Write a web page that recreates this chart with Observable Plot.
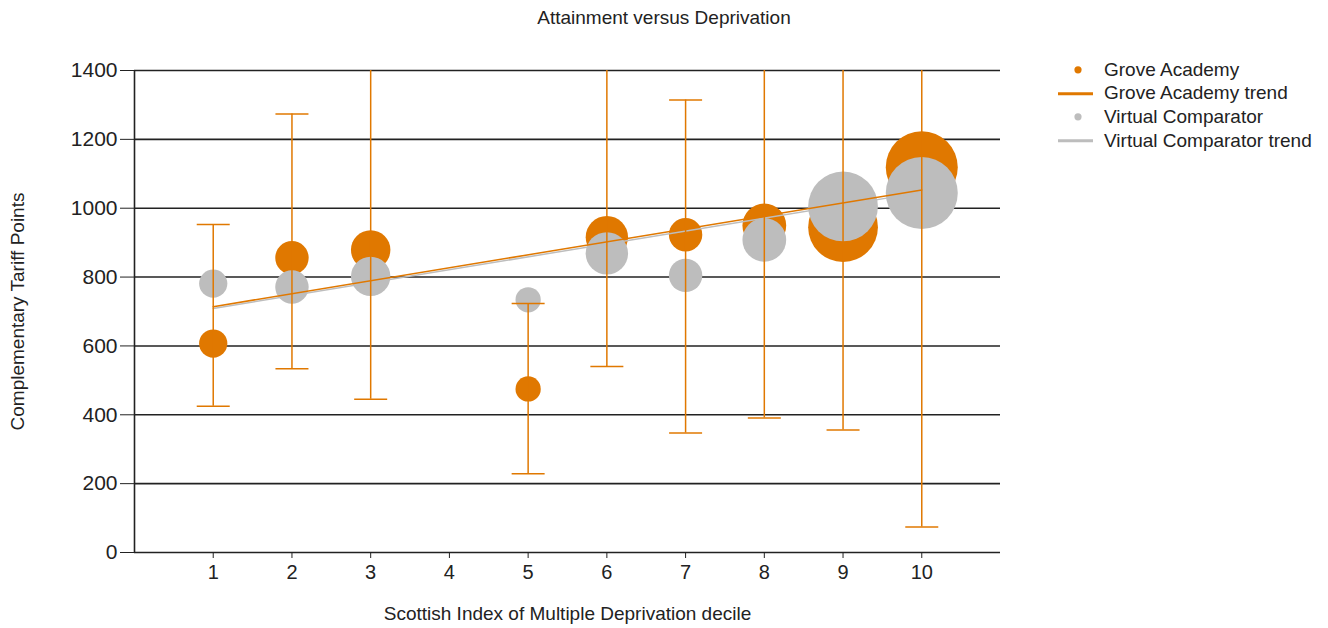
<!DOCTYPE html>
<html><head><meta charset="utf-8">
<script src="https://cdn.jsdelivr.net/npm/d3@7"></script>
<script src="https://cdn.jsdelivr.net/npm/@observablehq/plot@0.6"></script>
<style>
body{margin:0;background:#fff;font-family:"Liberation Sans",Arial,sans-serif;}
#wrap{position:relative;width:1328px;height:628px;overflow:hidden;}
#chart{position:absolute;left:0;top:0;}
#title{position:absolute;top:7px;left:0;width:1328px;text-align:center;font-size:19px;line-height:22px;color:#222;}
#legend{position:absolute;left:1055px;top:58px;font-size:19px;color:#222;}
.row{height:23.6px;display:flex;align-items:center;white-space:nowrap;}
.row svg{flex:none;}
</style></head><body>
<div id="wrap"><div id="chart"></div><div id="title"></div><div id="legend"></div></div>
<script>
// ---- data ----
const titleText = "Attainment versus Deprivation";
const xLabel = "Scottish Index of Multiple Deprivation decile";
const yLabel = "Complementary Tariff Points";
const xTicks = [1,2,3,4,5,6,7,8,9,10];
const yTicks = [0,200,400,600,800,1000,1200,1400];
const deciles = [1,2,3,5,6,7,8,9,10];
const groveScore = [607,856,879,475,916,923,950,945,1119];
const comparatorScore = [781,771,802,734,869,805,908,1005,1044];
const pupils = [20,28,39,16,45,28,48,122,130];
const errLow = [425,534,445,229,540,347,391,356,74];
const errHigh = [953,1274,1480,723,1480,1314,1480,1480,1480];
const trendX = [1,10];
const groveTrend = [714,1053];
const comparatorTrend = [709,1046];
const seriesNames = ["Grove Academy","Grove Academy trend","Virtual Comparator","Virtual Comparator trend"];

const orange = "#E07800";
const grey = "#BDBDBD";
const ink = "#222";

const rows = deciles.map((d,i)=>({decile:d, grove:groveScore[i], comparator:comparatorScore[i], pupils:pupils[i], low:errLow[i], high:errHigh[i]}));
const caps = rows.flatMap(r=>[{decile:r.decile, y:r.low},{decile:r.decile, y:r.high}]);
const trend = trendX.map((x,i)=>({x, grove:groveTrend[i], comparator:comparatorTrend[i]}));

const capSymbol = {draw(ctx, size){const w=Math.sqrt(size/Math.PI); ctx.moveTo(-w,0); ctx.lineTo(w,0);}};

const chart = Plot.plot({
  width:1328, height:628,
  marginLeft:134, marginRight:328, marginTop:70, marginBottom:76,
  style:{fontFamily:"'Liberation Sans', Arial, sans-serif", fontSize:"19px", color:ink, background:"white", overflow:"visible"},
  x:{domain:[0,11], label:null},
  y:{domain:[0,1400], label:null},
  r:{type:"sqrt", domain:[0,130], range:[0,36]},
  marks:[
    Plot.ruleY(yTicks, {stroke:ink, strokeWidth:1.6}),
    Plot.ruleX([0], {stroke:ink, strokeWidth:1.6}),
    Plot.dot(rows, {x:"decile", y:"grove", r:"pupils", fill:orange, stroke:null}),
    Plot.dot(rows, {x:"decile", y:"comparator", r:"pupils", fill:grey, stroke:null}),
    Plot.line(trend, {x:"x", y:"comparator", stroke:grey, strokeWidth:1.5}),
    Plot.line(trend, {x:"x", y:"grove", stroke:orange, strokeWidth:1.5}),
    Plot.ruleX(rows, {x:"decile", y1:"low", y2:"high", stroke:orange, strokeWidth:1.5, clip:true}),
    Plot.dot(caps, {x:"decile", y:"y", symbol:capSymbol, r:16.5, fill:"none", stroke:orange, strokeWidth:1.5, clip:true}),
    Plot.axisX({ticks:xTicks, tickFormat:d=>String(d), tickSize:6, tickPadding:6, fontSize:20, label:null}),
    Plot.axisY({ticks:yTicks, tickFormat:d=>String(d), tickSize:14, tickPadding:3, fontSize:21, label:null}),
    Plot.text([xLabel], {text:d=>d, frameAnchor:"bottom", dy:67, fontSize:19, fill:ink}),
    Plot.text([yLabel], {text:d=>d, frameAnchor:"left", textAnchor:"middle", dx:-117, rotate:-90, fontSize:19, fill:ink})
  ]
});
document.getElementById("chart").appendChild(chart);
document.getElementById("title").textContent = titleText;

const swatches = [
  `<circle cx="23" cy="11.8" r="3.6" fill="${orange}"/>`,
  `<line x1="3" x2="38" y1="11.8" y2="11.8" stroke="${orange}" stroke-width="3"/>`,
  `<circle cx="23" cy="11.8" r="3.6" fill="${grey}"/>`,
  `<line x1="3" x2="38" y1="11.8" y2="11.8" stroke="${grey}" stroke-width="3"/>`
];
document.getElementById("legend").innerHTML = seriesNames.map((n,i)=>
  `<div class="row"><svg width="49" height="23.6">${swatches[i]}</svg><span>${n}</span></div>`).join("");
</script>
</body></html>
